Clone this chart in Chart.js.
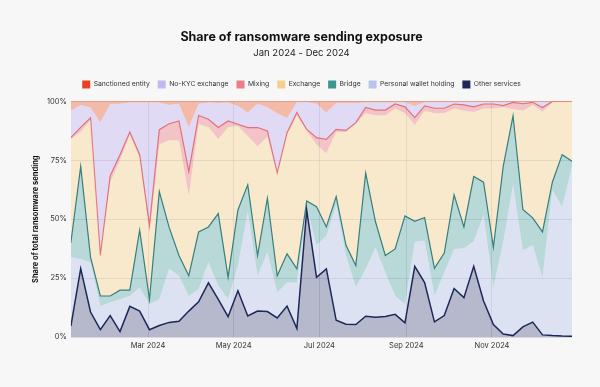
<!DOCTYPE html>
<html>
<head>
<meta charset="utf-8">
<script src="https://cdn.jsdelivr.net/npm/chart.js@4.4.0/dist/chart.umd.min.js"></script>
<style>
  html, body { margin: 0; padding: 0; background: #f7f7f7; }
  #wrap { width: 600px; height: 387px; }
</style>
</head>
<body>
<div id="wrap"><canvas id="exposureChart" width="600" height="387"></canvas></div>
<script>
// weekly points, Jan - Dec 2024
const weeks = [
  '2024-01-06', '2024-01-13', '2024-01-20', '2024-01-27', '2024-02-03', '2024-02-10', '2024-02-17', '2024-02-24',
  '2024-03-02', '2024-03-09', '2024-03-16', '2024-03-23', '2024-03-30', '2024-04-06', '2024-04-13', '2024-04-20',
  '2024-04-27', '2024-05-04', '2024-05-11', '2024-05-18', '2024-05-25', '2024-06-01', '2024-06-08', '2024-06-15',
  '2024-06-22', '2024-06-29', '2024-07-06', '2024-07-13', '2024-07-20', '2024-07-27', '2024-08-03', '2024-08-10',
  '2024-08-17', '2024-08-24', '2024-08-31', '2024-09-07', '2024-09-14', '2024-09-21', '2024-09-28', '2024-10-05',
  '2024-10-12', '2024-10-19', '2024-10-26', '2024-11-02', '2024-11-09', '2024-11-16', '2024-11-23', '2024-11-30',
  '2024-12-07', '2024-12-14', '2024-12-21', '2024-12-28'
];

const tickDates = ['2024-03-01', '2024-05-01', '2024-07-01', '2024-09-01', '2024-11-01'];
const tickLabels = ['Mar 2024', 'May 2024', 'Jul 2024', 'Sep 2024', 'Nov 2024'];
const yTicks = [0, 25, 50, 75, 100];

// share of sending exposure, % (bottom of the stack first)
const otherServices = [4.6, 29, 10.6, 3.1, 9.1, 2.3, 13, 11, 3.1, 4.9, 6.2, 6.7, 11, 14.9, 23, 16, 8.6, 19.6, 8.9, 11,
  10.8, 8.1, 13.1, 3.6, 53.9, 25.3, 28.9, 7.1, 5.4, 5.3, 8.8, 8.4, 8.7, 9.6, 6, 30, 23.1, 6.4, 9.1, 20.6,
  16.7, 30, 15.3, 5.3, 1.3, 0.6, 4.3, 6.3, 0.9, 0.6, 0.4, 0.3];
const personalWallet = [29.4, 4, 21.1, 9.9, 5.5, 13.7, 4.4, 10, 10.9, 11.1, 22.8, 19.3, 6.4, 5.4, 8.7, 5.7, 7.4, 10.7, 44.1, 15,
  25.2, 10.8, 10, 19.5, 1.1, 13.6, 14.1, 48.9, 29.2, 15.7, 20.1, 29.6, 18.8, 7.8, 8, 10.3, 17.9, 11, 18.3, 16.8,
  21, 10.6, 36.4, 15.7, 39, 64, 32.4, 32.6, 24.4, 61.8, 54.9, 72.1];
const bridge = [6, 39.4, 2.2, 4.4, 2.8, 3.9, 2.5, 24.3, 2, 45.7, 17.5, 8.6, 8.6, 24.3, 15, 30.7, 9.3, 23.6, 11.6, 8.6,
  22.9, 7.1, 12.2, 5.8, 2.7, 16.4, 3.7, 3.6, 4.3, 9.3, 40.7, 10.9, 7.1, 20, 37.4, 8.8, 9.7, 11.7, 8.2, 22.9,
  9, 27.5, 14, 17.1, 32.1, 29.3, 17.4, 11.7, 19.3, 3.3, 22.1, 2.2];
const exchange = [44, 14.6, 58.1, 16.6, 48.3, 55.1, 66.1, 30.7, 28, 20, 37, 48.8, 34, 45.7, 42.3, 31.6, 63.7, 35.7, 20.7, 46.4,
  26.1, 42.9, 50.7, 65, 29.8, 26.4, 31.3, 27.4, 48.1, 60.2, 25.4, 45.1, 59.4, 59.6, 43.6, 40.9, 45.3, 65.9, 59.4, 36.7,
  49.3, 27.4, 31.3, 58.9, 25.1, 2.9, 41.9, 47.9, 51.1, 33.8, 22.4, 25.2];
const mixing = [0.6, 2, 1, 0.6, 2.7, 2.4, 1, 1.4, 3.4, 6.3, 7, 8.3, 10.3, 3.7, 3.4, 4.9, 2.7, 0.7, 3.6, 7.9,
  2.5, 0.7, 0.7, 1.4, 0.6, 2.9, 5.9, 1.1, 0.7, 0.5, 2.4, 2.3, 2.3, 1.9, 2.7, 3.1, 2.1, 2.1, 2.1, 1.9,
  2.5, 2.2, 1.9, 1.9, 0.7, 2.8, 3, 1.1, 1.7, 0.5, 0.2, 0.2];
const noKyc = [11.4, 9.5, 4.4, 56.4, 30.5, 21.6, 12.5, 22.1, 52.1, 11.5, 8, 7.3, 18.7, 5, 7.1, 10.4, 7.8, 7.7, 6.4, 10.1,
  10, 25.4, 6.3, 4.3, 11.5, 14.4, 11.4, 11.2, 11.6, 8.3, 2.1, 3.2, 3.2, 0.7, 1.9, 4.9, 1.5, 2.5, 2.5, 0.9,
  1.3, 2.1, 0.9, 0.9, 1.6, 0.3, 0.9, 0.3, 2.4, 0, 0, 0];
const sanctioned = [4, 1.5, 2.6, 9, 1.1, 1, 0.5, 0.5, 0.5, 0.5, 1.5, 1, 11, 1, 0.5, 0.7, 0.5, 2, 4.7, 1,
  2.5, 5, 7, 0.4, 0.4, 1, 4.7, 0.7, 0.7, 0.7, 0.5, 0.5, 0.5, 0.4, 0.4, 2, 0.4, 0.4, 0.4, 0.2,
  0.2, 0.2, 0.2, 0.2, 0.2, 0.1, 0.1, 0.1, 0.2, 0, 0, 0];

const dayOfYear = s => {
  const [y, m, d] = s.split('-').map(Number);
  return (Date.UTC(y, m - 1, d) - Date.UTC(2024, 0, 1)) / 86400000;
};
const xs = weeks.map(dayOfYear);
const tickDays = tickDates.map(dayOfYear);

function series(label, values, solid, fill, line, width, first) {
  return {
    label: label,
    data: values.map((v, i) => ({ x: xs[i], y: v })),
    solid: solid,
    backgroundColor: fill,
    borderColor: line,
    borderWidth: width,
    fill: first ? 'origin' : '-1',
    pointRadius: 0,
    tension: 0
  };
}

// a bit of room between the legend and the plot
const legendGap = {
  id: 'legendGap',
  beforeInit(chart) {
    const fit = chart.legend.fit;
    chart.legend.fit = function() {
      fit.bind(chart.legend)();
      this.height += 3;
    };
  }
};

const ctx = document.getElementById('exposureChart').getContext('2d');
new Chart(ctx, {
  type: 'line',
  data: {
    datasets: [
      series('Other services', otherServices, '#1c2858', 'rgba(60, 70, 120, 0.35)', '#1c2858', 1.5, true),
      series('Personal wallet holding', personalWallet, '#b7c6e8', 'rgba(180, 195, 235, 0.4)', 'rgba(0,0,0,0)', 0),
      series('Bridge', bridge, '#3a9593', 'rgba(70, 160, 160, 0.35)', '#357f7c', 1.2),
      series('Exchange', exchange, '#f6d08a', 'rgba(250, 210, 140, 0.4)', 'rgba(0,0,0,0)', 0),
      series('Mixing', mixing, '#ea7f8a', 'rgba(235, 130, 140, 0.45)', '#e2707c', 1.2),
      series('No-KYC exchange', noKyc, '#c4b8f0', 'rgba(190, 175, 240, 0.4)', 'rgba(0,0,0,0)', 0),
      series('Sanctioned entity', sanctioned, '#e8431f', 'rgba(240, 110, 70, 0.45)', '#e8663c', 1.2)
    ]
  },
  plugins: [legendGap],
  options: {
    responsive: false,
    animation: false,
    layout: { padding: { left: 31, right: 28, bottom: 33 } },
    plugins: {
      title: {
        display: true,
        text: 'Share of ransomware sending exposure',
        color: '#111',
        font: { family: 'Inter', size: 12.5, weight: 'bold' },
        padding: { top: 30, bottom: 2 }
      },
      subtitle: {
        display: true,
        text: 'Jan 2024 - Dec 2024',
        color: '#222',
        font: { family: 'Inter', size: 9.5 },
        padding: { top: 0, bottom: 14 }
      },
      legend: {
        reverse: true,
        labels: {
          boxWidth: 8,
          boxHeight: 8,
          padding: 8,
          color: '#333',
          font: { family: 'Inter', size: 6.8 },
          generateLabels: function(chart) {
            return chart.data.datasets.map((ds, i) => ({
              text: ds.label,
              fillStyle: ds.solid,
              strokeStyle: ds.solid,
              lineWidth: 0,
              datasetIndex: i,
              fontColor: '#333'
            }));
          }
        }
      },
      tooltip: { enabled: false }
    },
    scales: {
      x: {
        type: 'linear',
        min: xs[0],
        max: xs[xs.length - 1],
        afterBuildTicks: scale => { scale.ticks = tickDays.map(v => ({ value: v })); },
        ticks: {
          autoSkip: false,
          maxRotation: 0,
          color: '#333',
          padding: 4,
          font: { family: 'Inter', size: 7.5 },
          callback: v => tickLabels[tickDays.indexOf(v)]
        },
        grid: { color: 'rgba(80, 90, 130, 0.18)', drawTicks: false },
        border: { display: false }
      },
      y: {
        stacked: true,
        min: 0,
        max: 100,
        afterBuildTicks: scale => { scale.ticks = yTicks.map(v => ({ value: v })); },
        ticks: {
          color: '#333',
          padding: 4,
          font: { family: 'Inter', size: 7.5 },
          callback: v => v + '%'
        },
        grid: { color: 'rgba(80, 90, 130, 0.18)', drawTicks: false },
        border: { display: false },
        title: {
          display: true,
          text: 'Share of total ransomware sending',
          color: '#111',
          padding: { top: 0, bottom: 3 },
          font: { family: 'Inter', size: 7.5, weight: 'bold' }
        }
      }
    }
  }
});
</script>
</body>
</html>
